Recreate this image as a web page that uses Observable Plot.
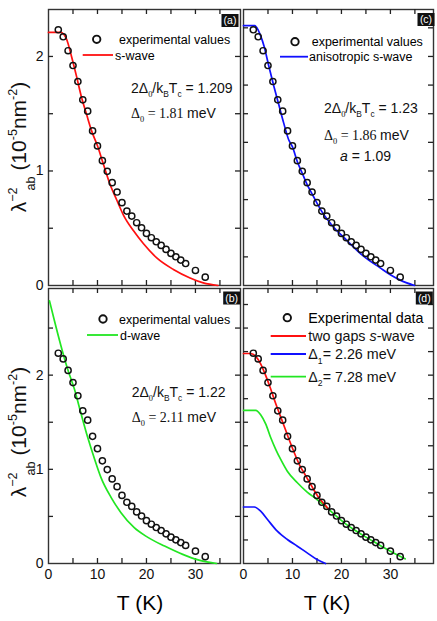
<!DOCTYPE html>
<html><head><meta charset="utf-8">
<script src="https://cdn.jsdelivr.net/npm/d3@7"></script>
<script src="https://cdn.jsdelivr.net/npm/@observablehq/plot@0.6"></script>
<style>
body{margin:0;background:#fff;}
#fig{position:relative;width:437px;height:621px;overflow:hidden;}
</style></head><body><div id="fig"></div>
<script>
// ---------- data ----------
const T_exp = [2,3,4,5,6,7,8,9,10,11,12,13,14,15,16,17,18,19,20,21,22,23,24,25,26,27,28,30,32];
const L_exp = [2.233,2.172,2.05,1.921,1.781,1.621,1.522,1.35,1.219,1.09,0.997,0.898,0.816,0.723,0.650,0.606,0.548,0.504,0.455,0.417,0.382,0.350,0.315,0.280,0.251,0.222,0.192,0.131,0.073];

// (a) s-wave
const T_sA = [0,2.5,3.2,3.7,4.7,5.7,6.7,7.8,8.8,10,11.2,12.6,14,15.3,17.4,19.4,22.1,25.5,28.9,31.6,34.6];
const L_sA = [2.21,2.21,2.19,2.15,2.0,1.83,1.65,1.49,1.35,1.22,1.06,0.88,0.74,0.615,0.475,0.364,0.241,0.14,0.066,0.023,0];
// (c) anisotropic s-wave
const T_anis = [0,2.3,3.0,3.5,4.2,5.2,6.2,7.2,8.2,9.25,10,11,12,13,14,15,16,17.8,21.2,24.5,27.9,29.9,32,34.9];
const L_anis = [2.27,2.27,2.23,2.18,2.09,1.91,1.74,1.58,1.42,1.27,1.21,1.08,0.98,0.88,0.80,0.72,0.645,0.54,0.39,0.256,0.154,0.096,0.047,0];
// (b) d-wave
const T_d = [0.2,1.2,2.55,3.9,5.3,6.6,8.0,9.4,10.7,12.8,14.8,17.5,20.2,23.7,27.4,30.9,34.3];
const L_d = [2.79,2.58,2.31,2.065,1.85,1.60,1.34,1.11,0.915,0.70,0.54,0.38,0.28,0.185,0.097,0.033,0];
// (d) two gaps
const T_2g = [0,1.5,2.5,3.5,4.5,5.5,6.5,7.5,8.5,9.5,10.5,11.5,12.5,13.5,14.5,15.5,16.5,17.3];
const L_2g = [2.23,2.23,2.20,2.12,2.0,1.86,1.71,1.57,1.43,1.29,1.16,1.04,0.95,0.86,0.77,0.69,0.63,0.58];
const T_g1 = [0,2.2,3.5,4.9,6.9,8.95,11,13,15,16.75];
const L_g1 = [0.60,0.60,0.556,0.467,0.343,0.255,0.184,0.113,0.042,0];
const T_g2 = [0,2.5,3.5,4.55,5.57,6.6,7.6,8.95,11,13,15,17.1,19,21,23,25,27,30,33];
const L_g2 = [1.626,1.626,1.58,1.48,1.335,1.21,1.105,0.98,0.857,0.758,0.68,0.59,0.50,0.415,0.345,0.28,0.22,0.13,0.05];

const xMinorTicks = [5,10,15,20,25,30,35];
const xLabelTicks = [0,10,20,30];
const yLabelTicks = [0,1,2];
const yTicksHalf = [0.5,1,1.5,2];
const yTicksQuarter = [0.25,0.5,0.75,1,1.25,1.5,1.75,2,2.25];
const yTicksQuarterB = [0.25,0.5,0.75,1,1.25,1.5,1.75,2,2.25,2.5,2.75];
const yTicksHalfB = [0.5,1,1.5,2,2.5];

const RED = "#ff1010", BLUE = "#1010ff", GREEN = "#22e622";
const SANS = "'Liberation Sans', Arial, Helvetica, sans-serif";
const SERIF = "'Liberation Serif', 'Times New Roman', serif";

const rows = (T, L) => T.map((t, i) => ({T: t, v: L[i]}));
const expRows = rows(T_exp, L_exp);

const fig = document.getElementById("fig");
const TK = 5; // inward tick length in px

function panel({left, top, w, h, xMax, yMax, yTicks, curves, leftLabels, bottomLabels}) {
  const m = 3;
  const tk = {stroke: "#222", strokeWidth: 1.3};
  const marks = [
    Plot.frame({stroke: "#333", strokeWidth: 1.4}),
    Plot.tickX(xMinorTicks, {x: d => d, insetTop: h - TK, ...tk}),
    Plot.tickX(xMinorTicks, {x: d => d, insetBottom: h - TK, ...tk}),
    Plot.tickY(yTicks, {y: d => d, insetRight: w - TK, ...tk}),
    Plot.tickY(yTicks, {y: d => d, insetLeft: w - TK, ...tk})
  ];
  if (leftLabels) marks.push(Plot.axisY({ticks: yLabelTicks, anchor: "left", tickSize: 0, tickPadding: 5, fontSize: 14, label: null, tickFormat: d => String(d)}));
  if (bottomLabels) marks.push(Plot.axisX({ticks: xLabelTicks, anchor: "bottom", tickSize: 0, tickPadding: 6, fontSize: 14, label: null, tickFormat: d => String(d)}));
  for (const c of curves) marks.push(Plot.line(rows(c.T, c.L), {x: "T", y: "v", stroke: c.color, strokeWidth: 1.7, curve: "monotone-x"}));
  marks.push(Plot.dot(expRows, {x: "T", y: "v", r: 3.1, stroke: "#111", strokeWidth: 1.45, fill: "none"}));
  const svg = Plot.plot({
    width: w + 2*m, height: h + 2*m,
    marginLeft: m, marginRight: m, marginTop: m, marginBottom: m,
    x: {domain: [0, xMax], label: null, axis: bottomLabels ? undefined : null},
    y: {domain: [0, yMax], label: null, axis: leftLabels ? undefined : null},
    style: `position:absolute;left:${left - m}px;top:${top - m}px;overflow:visible;background:transparent;font-family:${SANS};color:#111;max-width:none;`,
    marks
  });
  fig.appendChild(svg);
}

panel({left: 48, top: 9, w: 192, h: 276, xMax: 39.2, yMax: 2.41, yTicks: yTicksHalf,
  curves: [{T: T_sA, L: L_sA, color: RED}], leftLabels: true});
panel({left: 243, top: 9, w: 190, h: 276, xMax: 38.8, yMax: 2.41, yTicks: yTicksQuarter,
  curves: [{T: T_anis, L: L_anis, color: BLUE}]});
panel({left: 48, top: 288, w: 192, h: 275, xMax: 39.2, yMax: 2.92, yTicks: yTicksHalfB,
  curves: [{T: T_d, L: L_d, color: GREEN}], leftLabels: true, bottomLabels: true});
panel({left: 243, top: 288, w: 190, h: 275, xMax: 38.8, yMax: 2.92, yTicks: yTicksQuarterB,
  curves: [{T: T_g1, L: L_g1, color: BLUE}, {T: T_g2, L: L_g2, color: GREEN}, {T: T_2g, L: L_2g, color: RED}],
  bottomLabels: true});

// ---------- overlay: legends, annotations, titles ----------
const ov = d3.select(fig).append("svg")
  .attr("width", 437).attr("height", 621)
  .style("position", "absolute").style("left", "0px").style("top", "0px")
  .style("font-family", SANS).style("pointer-events", "none");

function rich(x, y, size, parts, opts = {}) {
  const t = ov.append("text").attr("x", x).attr("y", y).attr("font-size", size)
    .attr("font-family", opts.family || SANS).attr("fill", "#111");
  let off = 0;
  for (const p of parts) {
    const target = p.sub ? size * (p.subK ?? 0.32) : p.sup ? -size * 0.42 : 0;
    const ts = t.append("tspan").text(p.t).attr("dy", target - off);
    off = target;
    if (p.sub || p.sup) ts.attr("font-size", size * (p.k ?? 0.6));
    if (p.family) ts.attr("font-family", p.family);
    if (p.italic) ts.attr("font-style", "italic");
    if (p.dx) ts.attr("dx", p.dx);
  }
  return t;
}
function legCircle(x, y) {
  ov.append("circle").attr("cx", x).attr("cy", y).attr("r", 3.7).attr("fill", "none").attr("stroke", "#111").attr("stroke-width", 1.9);
}
function legLine(x1, x2, y, color) {
  ov.append("line").attr("x1", x1).attr("x2", x2).attr("y1", y).attr("y2", y).attr("stroke", color).attr("stroke-width", 1.8);
}
function tag(cx, cy, s) {
  ov.append("rect").attr("x", cx - 8.5).attr("y", cy - 6.5).attr("width", 17).attr("height", 13).attr("fill", "#111");
  ov.append("text").attr("x", cx).attr("y", cy + 3.8).attr("text-anchor", "middle").attr("font-size", 10.5).attr("fill", "#fff").text(s);
}
const gapText = v => [{t: "2Δ"}, {t: "0", sub: true, family: SERIF}, {t: "/k"}, {t: "B", sub: true}, {t: "T"}, {t: "c", sub: true}, {t: " = " + v}];
const deltaText = (sub, v) => [{t: "Δ", family: SERIF}, {t: sub, sub: true, family: SERIF}, {t: " = " + v + " ", family: SERIF}, {t: "meV"}];

// (a)
tag(230, 20.5, "(a)");
legCircle(96.7, 39.3);
ov.append("text").attr("x", 119).attr("y", 43.8).attr("font-size", 12.5).text("experimental values");
legLine(82.7, 113, 55, RED);
ov.append("text").attr("x", 115).attr("y", 59.5).attr("font-size", 12.5).text("s-wave");
rich(131, 93, 14, gapText("1.209"));
rich(131, 118, 14, deltaText("0", "1.81"));

// (c)
tag(426, 19.5, "(c)");
legCircle(295, 41.7);
ov.append("text").attr("x", 311.7).attr("y", 46.2).attr("font-size", 12.5).text("experimental values");
legLine(280, 308, 56.7, BLUE);
ov.append("text").attr("x", 309).attr("y", 61.2).attr("font-size", 12.5).text("anisotropic s-wave");
rich(324, 113, 14, gapText("1.23"));
rich(324, 140, 14, deltaText("0", "1.86"));
rich(340, 161, 14, [{t: "a", italic: true}, {t: " = 1.09"}]);

// (b)
tag(231.7, 298, "(b)");
legCircle(103, 319);
ov.append("text").attr("x", 119).attr("y", 323.5).attr("font-size", 12.5).text("experimental values");
legLine(87, 118, 335, GREEN);
ov.append("text").attr("x", 120).attr("y", 339.5).attr("font-size", 12.5).text("d-wave");
rich(131.7, 397, 14, gapText("1.22"));
rich(131.7, 422, 14, deltaText("0", "2.11"));

// (d)
tag(424.3, 298, "(d)");
legCircle(287.3, 317.7);
ov.append("text").attr("x", 308.3).attr("y", 322.8).attr("font-size", 14.3).text("Experimental data");
legLine(270.7, 306, 336, RED);
rich(308.3, 341, 14.3, [{t: "two gaps "}, {t: "s", italic: true}, {t: "-wave"}]);
legLine(270.7, 306, 354, BLUE);
rich(308.3, 359, 14.3, [{t: "Δ"}, {t: "1", sub: true}, {t: "= 2.26 meV"}]);
legLine(270.7, 306, 376.7, GREEN);
rich(308.3, 381.5, 14.3, [{t: "Δ"}, {t: "2", sub: true}, {t: "= 7.28 meV"}]);

// axis titles
const yTitle = [{t: "λ"}, {t: "−2", sup: true}, {t: "ab", sub: true, dx: -3, subK: 0.45}, {t: " (10"}, {t: "-5", sup: true}, {t: "nm"}, {t: "-2", sup: true}, {t: ")"}];
rich(0, 0, 21, yTitle).attr("text-anchor", "middle").attr("transform", "translate(26,147) rotate(-90)");
rich(0, 0, 21, yTitle).attr("text-anchor", "middle").attr("transform", "translate(26,432) rotate(-90)");
ov.append("text").attr("x", 140).attr("y", 610).attr("text-anchor", "middle").attr("font-size", 21).text("T (K)");
ov.append("text").attr("x", 327).attr("y", 610).attr("text-anchor", "middle").attr("font-size", 21).text("T (K)");
</script>
</body></html>
